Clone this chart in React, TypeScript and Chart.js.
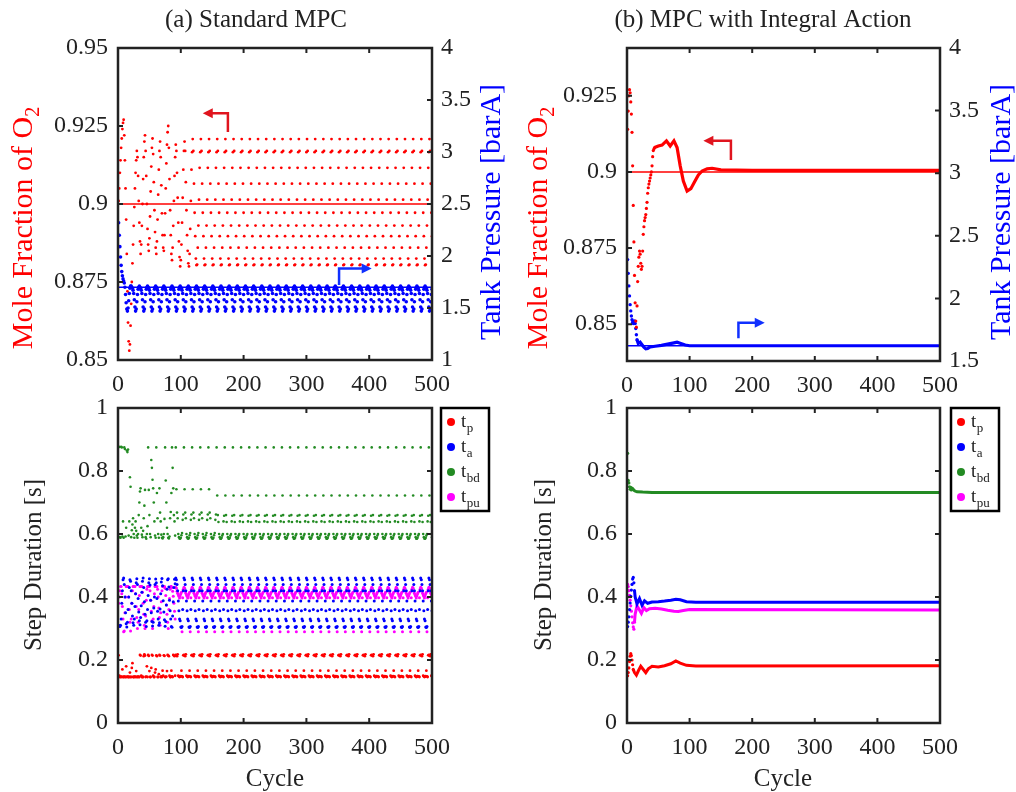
import React, { useEffect, useRef } from "react";
import { Chart, registerables } from "chart.js";
Chart.register(...registerables);

const FONT = '"Liberation Serif", "Times New Roman", serif';
const RED = "#ff0000";
const BLUE = "#0000ff";
const GREEN = "#238b23";
const MAGENTA = "#ff00ff";
const INK = "#222222";
const LAST_CYCLE = 500;

// ---------- tick labels ----------
const CYCLE_TICKS = [0, 100, 200, 300, 400, 500];
const A_O2_TICKS = [0.85, 0.875, 0.9, 0.925, 0.95];
const A_P_TICKS = [1, 1.5, 2, 2.5, 3, 3.5, 4];
const B_O2_TICKS = [0.85, 0.875, 0.9, 0.925];
const B_P_TICKS = [1.5, 2, 2.5, 3, 3.5, 4];
const STEP_TICKS = [0, 0.2, 0.4, 0.6, 0.8, 1];

// ---------- (a) Standard MPC : mole fraction / pressure ----------
const A_O2_SETPOINT = 0.9;
const A_P_SETPOINT = 1.7;
const A_O2_TRANSIENT = [
  0.901, 0.905, 0.91, 0.914, 0.918, 0.921, 0.924, 0.926, 0.927, 0.922,
  0.914, 0.905, 0.895, 0.884, 0.872, 0.862, 0.856, 0.853, 0.855, 0.861,
  0.868, 0.875, 0.881, 0.887, 0.893, 0.899, 0.905, 0.91, 0.914, 0.917,
  0.915, 0.909, 0.901, 0.894, 0.888, 0.884, 0.887, 0.893, 0.9, 0.908,
  0.915, 0.92, 0.922, 0.917, 0.909, 0.9, 0.892, 0.887, 0.885, 0.889,
  0.896, 0.904, 0.912, 0.918, 0.921, 0.916, 0.907, 0.898, 0.891, 0.886,
  0.884, 0.888, 0.895, 0.903, 0.911, 0.917, 0.92, 0.915, 0.906, 0.897,
  0.89, 0.886, 0.885, 0.89, 0.897, 0.905, 0.913, 0.919, 0.923, 0.925,
  0.918, 0.908, 0.898, 0.89, 0.884, 0.882, 0.886, 0.893, 0.901, 0.909,
  0.915, 0.919, 0.917, 0.91, 0.902, 0.894, 0.888, 0.883, 0.88, 0.882,
  0.887, 0.894, 0.902, 0.911, 0.917, 0.92, 0.917, 0.907, 0.898, 0.89,
  0.885, 0.881, 0.88, 0.884, 0.892, 0.901, 0.911,
];
const A_O2_CYCLE = [0.9166, 0.9208, 0.917, 0.9065, 0.8972, 0.8897, 0.8825, 0.8804, 0.8806, 0.886, 0.8931, 0.9014, 0.9116];
const A_P_TRANSIENT = [2.32, 2.2, 2.09, 1.99, 1.91, 1.85, 1.81, 1.78, 1.76, 1.74, 1.7, 1.63, 1.55, 1.49, 1.47, 1.5, 1.57, 1.64, 1.69, 1.71];
const A_P_CYCLE = [1.71, 1.7, 1.69, 1.67, 1.64, 1.58, 1.51, 1.47, 1.49, 1.56, 1.63, 1.68, 1.7];

// ---------- (a) Standard MPC : step durations ----------
const A_TP_TRANSIENT = [
  0.215, 0.15, 0.146, 0.146, 0.147, 0.146, 0.17, 0.146, 0.146, 0.147, 0.146, 0.146, 0.18,
  0.146, 0.147, 0.146, 0.146, 0.146, 0.16, 0.146, 0.146, 0.175, 0.19, 0.146, 0.146, 0.146,
  0.147, 0.146, 0.165, 0.146, 0.146, 0.147, 0.146, 0.146, 0.216, 0.214, 0.15, 0.146, 0.146,
  0.146, 0.212, 0.218, 0.214, 0.146, 0.147, 0.18, 0.146, 0.216, 0.213, 0.165, 0.146, 0.146,
  0.175, 0.216, 0.214, 0.15, 0.146, 0.146, 0.16, 0.17, 0.215, 0.212, 0.146, 0.146, 0.155,
  0.216, 0.214, 0.146, 0.148, 0.146, 0.166, 0.15, 0.215, 0.213, 0.146, 0.146, 0.147, 0.165,
  0.216, 0.214, 0.212, 0.15, 0.146, 0.146, 0.166, 0.148, 0.146, 0.216, 0.214, 0.212, 0.15,
];
const A_TP_CYCLE = [0.216, 0.214, 0.212, 0.218, 0.15, 0.148, 0.146, 0.147, 0.149, 0.166, 0.148, 0.146, 0.215];

const A_TA_TRANSIENT = [
  0.31, 0.308, 0.306, 0.31, 0.33, 0.38, 0.42, 0.455, 0.46, 0.44, 0.4, 0.35, 0.315,
  0.305, 0.32, 0.36, 0.4, 0.43, 0.455, 0.45, 0.42, 0.38, 0.34, 0.318, 0.31, 0.33,
  0.37, 0.41, 0.445, 0.458, 0.44, 0.395, 0.352, 0.325, 0.312, 0.335, 0.372, 0.415, 0.45,
  0.46, 0.43, 0.385, 0.345, 0.32, 0.306, 0.325, 0.36, 0.405, 0.445, 0.458, 0.438, 0.39,
  0.35, 0.322, 0.308, 0.32, 0.365, 0.4, 0.44, 0.457, 0.445, 0.395, 0.355, 0.33, 0.31,
  0.318, 0.362, 0.41, 0.448, 0.459, 0.436, 0.388, 0.352, 0.328, 0.307, 0.322, 0.375, 0.425,
  0.455, 0.458, 0.432, 0.39, 0.356, 0.33, 0.306, 0.304, 0.34, 0.385, 0.43, 0.456, 0.442,
];
const A_TA_CYCLE = [0.46, 0.455, 0.44, 0.42, 0.387, 0.356, 0.33, 0.325, 0.305, 0.303, 0.306, 0.36, 0.42];

const A_TBD_TRANSIENT = [
  0.877, 0.876, 0.59, 0.588, 0.877, 0.875, 0.592, 0.64, 0.588, 0.875, 0.87, 0.592, 0.62,
  0.865, 0.86, 0.868, 0.595, 0.64, 0.78, 0.75, 0.59, 0.612, 0.63, 0.65, 0.6, 0.588,
  0.62, 0.64, 0.61, 0.595, 0.588, 0.6, 0.66, 0.7, 0.735, 0.745, 0.62, 0.598, 0.59,
  0.61, 0.65, 0.69, 0.74, 0.59, 0.585, 0.6, 0.625, 0.875, 0.74, 0.66, 0.6, 0.59,
  0.835, 0.81, 0.772, 0.745, 0.7, 0.64, 0.595, 0.588, 0.875, 0.73, 0.65, 0.6, 0.588,
  0.745, 0.668, 0.64, 0.598, 0.588, 0.586, 0.59, 0.6, 0.648, 0.875, 0.77, 0.7, 0.62,
  0.6, 0.588, 0.586, 0.592, 0.65, 0.67, 0.73, 0.875, 0.81, 0.745, 0.66, 0.64, 0.595,
];
const A_TBD_MID_CYCLE = [0.875, 0.742, 0.668, 0.65, 0.6, 0.59, 0.586, 0.585, 0.588, 0.596, 0.603, 0.645, 0.662];
const A_TBD_MID_END = 156;
const A_TBD_CYCLE = [0.875, 0.722, 0.66, 0.638, 0.6, 0.59, 0.585, 0.585, 0.588, 0.595, 0.6, 0.64, 0.658];

const A_TPU_TRANSIENT = [
  0.38, 0.4, 0.42, 0.433, 0.433, 0.41, 0.37, 0.33, 0.29, 0.292, 0.35, 0.4, 0.433,
  0.433, 0.433, 0.433, 0.4, 0.36, 0.32, 0.292, 0.33, 0.38, 0.42, 0.433, 0.433, 0.433,
  0.433, 0.41, 0.37, 0.335, 0.3, 0.32, 0.36, 0.405, 0.433, 0.433, 0.433, 0.433, 0.415,
  0.38, 0.345, 0.31, 0.3, 0.34, 0.39, 0.425, 0.433, 0.433, 0.433, 0.433, 0.42, 0.39,
  0.355, 0.325, 0.3, 0.33, 0.37, 0.41, 0.433, 0.433, 0.433, 0.433, 0.425, 0.4, 0.365,
  0.335, 0.31, 0.35, 0.385, 0.42, 0.433, 0.433, 0.433, 0.433, 0.428, 0.405, 0.375, 0.345,
  0.32, 0.3, 0.36, 0.395, 0.425, 0.433, 0.433, 0.43, 0.418, 0.402, 0.38, 0.355, 0.33,
];
const A_TPU_CYCLE = [0.431, 0.428, 0.418, 0.412, 0.407, 0.402, 0.397, 0.404, 0.41, 0.415, 0.29, 0.398, 0.425];

// ---------- (b) MPC with integral action ----------
const B_O2_SETPOINT = 0.9;
const B_P_SETPOINT = 1.622;
const B_O2_DOTS = [
  0.914, 0.92, 0.925, 0.927, 0.926, 0.923, 0.919, 0.913, 0.902, 0.889,
  0.877, 0.866, 0.857, 0.851, 0.849, 0.856, 0.864, 0.869, 0.872, 0.874,
  0.873, 0.87, 0.868, 0.869, 0.874, 0.8795, 0.882, 0.884, 0.885, 0.886,
  0.888, 0.89, 0.893, 0.8948, 0.896, 0.897, 0.898, 0.899, 0.9, 0.902, 0.905, 0.907, 0.9075, 0.908,
];
const B_O2_CYCLES = [44, 50, 56, 63, 69, 75, 80, 85, 90, 96, 102, 108, 114, 120, 128, 136, 150, 200, 500];
const B_O2_VALUES = [0.908, 0.9085, 0.9088, 0.9102, 0.9085, 0.9102, 0.908, 0.902, 0.897, 0.8937, 0.8945, 0.8968, 0.899, 0.9003, 0.901, 0.9012, 0.9007, 0.9005, 0.9005];
const B_P_DOTS = [2.31, 2.2, 2.1, 2.02, 1.95, 1.9, 1.86, 1.83, 1.81, 1.8, 1.81, 1.82, 1.8, 1.76, 1.71, 1.67];
const B_P_CYCLES = [16, 18, 21, 24, 27, 30, 33, 37, 45, 55, 65, 75, 80, 86, 93, 100, 500];
const B_P_VALUES = [1.67, 1.64, 1.65, 1.63, 1.61, 1.597, 1.6, 1.612, 1.618, 1.625, 1.635, 1.645, 1.65, 1.64, 1.628, 1.622, 1.622];

const B_TP_DOTS = [0.15, 0.16, 0.175, 0.195, 0.212, 0.22, 0.214, 0.2, 0.185, 0.17];
const B_TP_CYCLES = [10, 12, 15, 18, 22, 26, 30, 34, 40, 50, 60, 70, 78, 85, 95, 110, 500];
const B_TP_VALUES = [0.17, 0.16, 0.152, 0.165, 0.18, 0.17, 0.16, 0.172, 0.18, 0.178, 0.182, 0.188, 0.197, 0.19, 0.183, 0.181, 0.182];
const B_TA_DOTS = [0.306, 0.32, 0.337, 0.36, 0.381, 0.402, 0.422, 0.44, 0.457, 0.462, 0.445, 0.42];
const B_TA_CYCLES = [12, 13, 16, 20, 24, 28, 33, 40, 50, 60, 70, 78, 85, 95, 110, 500];
const B_TA_VALUES = [0.42, 0.4, 0.378, 0.395, 0.374, 0.388, 0.38, 0.384, 0.385, 0.387, 0.39, 0.393, 0.391, 0.385, 0.383, 0.383];
const B_TBD_DOTS = [0.856, 0.77, 0.762, 0.75, 0.742, 0.748, 0.74];
const B_TBD_CYCLES = [7, 9, 12, 16, 25, 40, 500];
const B_TBD_VALUES = [0.74, 0.744, 0.737, 0.734, 0.733, 0.732, 0.732];
const B_TPU_DOTS = [0.44, 0.433, 0.42, 0.405, 0.39, 0.372, 0.355, 0.337, 0.318, 0.305, 0.298, 0.32];
const B_TPU_CYCLES = [12, 13, 16, 19, 23, 27, 31, 36, 45, 55, 65, 75, 82, 90, 100, 500];
const B_TPU_VALUES = [0.32, 0.345, 0.372, 0.362, 0.348, 0.366, 0.357, 0.363, 0.364, 0.362, 0.358, 0.355, 0.354, 0.357, 0.36, 0.359];

// ---------- annotation arrows (data coordinates) ----------
// [stem cycle, head cycle, low value, high value]
const A_O2_ARROW = [175, 135, 0.9231, 0.9291];
const A_P_ARROW = [352, 404, 1.72, 1.88];
const B_O2_ARROW = [166, 122, 0.9039, 0.9102];
const B_P_ARROW = [178, 220, 1.681, 1.805];

// ---------- helpers ----------
type Pt = { x: number; y: number };
const seq = (vals: number[]): Pt[] => vals.map((v, i) => ({ x: i + 1, y: v }));
const pairs = (xs: number[], ys: number[]): Pt[] => xs.map((x, i) => ({ x, y: ys[i] }));
function limitCycle(trans: number[], phases: [number[], number][]): Pt[] {
  const out: Pt[] = [];
  for (let c = 1; c <= LAST_CYCLE; c++) {
    if (c <= trans.length) {
      out.push({ x: c, y: trans[c - 1] });
      continue;
    }
    let start = trans.length + 1;
    for (const [vals, end] of phases) {
      if (c <= end) {
        out.push({ x: c, y: vals[(c - start) % vals.length] });
        break;
      }
      start = end + 1;
    }
  }
  return out;
}

const dots = (data: Pt[], color: string, r: number, axis = "y") => ({
  data,
  yAxisID: axis,
  showLine: false,
  pointRadius: r,
  pointHoverRadius: r,
  pointBorderWidth: 0,
  pointBackgroundColor: color,
  backgroundColor: color,
  borderColor: color,
});
const line = (data: Pt[], color: string, w: number, axis = "y") => ({
  data,
  yAxisID: axis,
  showLine: true,
  pointRadius: 0,
  pointHoverRadius: 0,
  borderWidth: w,
  borderColor: color,
  backgroundColor: color,
  fill: false,
  tension: 0,
});
const flat = (v: number): Pt[] => [
  { x: 0, y: v },
  { x: LAST_CYCLE, y: v },
];

type Part = { t: string; sub?: boolean };
type Title = { parts: Part[]; x: number; y: number; rot: number; color: string; size: number };
type Arrow = { a: number[]; axis: string; color: string };
type Box = { left: number; top: number; right: number; bottom: number };
interface Spec {
  left: number;
  top: number;
  width: number;
  height: number;
  area: Box;
  y: { min: number; max: number; ticks: number[] };
  y2?: { min: number; max: number; ticks: number[] };
  datasets: any[];
  titles: Title[];
  arrows: Arrow[];
  legend?: Box;
}

function drawRich(ctx: CanvasRenderingContext2D, t: Title, ox: number, oy: number) {
  ctx.save();
  ctx.translate(t.x - ox, t.y - oy);
  ctx.rotate((t.rot * Math.PI) / 180);
  ctx.fillStyle = t.color;
  ctx.textAlign = "left";
  ctx.textBaseline = "alphabetic";
  const widths = t.parts.map((p) => {
    ctx.font = `${p.sub ? Math.round(t.size * 0.68) : t.size}px ${FONT}`;
    return ctx.measureText(p.t).width;
  });
  let x = -widths.reduce((a, b) => a + b, 0) / 2;
  t.parts.forEach((p, i) => {
    ctx.font = `${p.sub ? Math.round(t.size * 0.68) : t.size}px ${FONT}`;
    ctx.fillText(p.t, x, t.size * 0.33 + (p.sub ? t.size * 0.22 : 0));
    x += widths[i];
  });
  ctx.restore();
}

const LEGEND_ITEMS = [
  { color: RED, sub: "p" },
  { color: BLUE, sub: "a" },
  { color: GREEN, sub: "bd" },
  { color: MAGENTA, sub: "pu" },
];

function decorPlugin(spec: Spec) {
  return {
    id: "decor",
    afterDraw(chart: any) {
      const ctx: CanvasRenderingContext2D = chart.ctx;
      const ca = chart.chartArea;
      const sx = chart.scales.x;
      const sy = chart.scales.y;
      const sy2 = chart.scales.y2;
      ctx.save();
      // arrows
      for (const ar of spec.arrows) {
        const s = ar.axis === "y2" ? sy2 : sy;
        const [stem, head, lo, hi] = ar.a;
        const xs = sx.getPixelForValue(stem);
        const xh = sx.getPixelForValue(head);
        const yb = s.getPixelForValue(lo);
        const yt = s.getPixelForValue(hi);
        const dir = Math.sign(xh - xs);
        ctx.strokeStyle = ar.color;
        ctx.fillStyle = ar.color;
        ctx.lineWidth = 2.5;
        ctx.beginPath();
        ctx.moveTo(xs, yb);
        ctx.lineTo(xs, yt);
        ctx.lineTo(xh - dir * 6, yt);
        ctx.stroke();
        ctx.beginPath();
        ctx.moveTo(xh, yt);
        ctx.lineTo(xh - dir * 10, yt - 5);
        ctx.lineTo(xh - dir * 10, yt + 5);
        ctx.closePath();
        ctx.fill();
      }
      // inward ticks
      ctx.strokeStyle = INK;
      ctx.lineWidth = 2;
      const TL = 5;
      ctx.beginPath();
      for (const v of CYCLE_TICKS) {
        const px = sx.getPixelForValue(v);
        ctx.moveTo(px, ca.bottom);
        ctx.lineTo(px, ca.bottom - TL);
        ctx.moveTo(px, ca.top);
        ctx.lineTo(px, ca.top + TL);
      }
      for (const v of spec.y.ticks) {
        const py = sy.getPixelForValue(v);
        ctx.moveTo(ca.left, py);
        ctx.lineTo(ca.left + TL, py);
        if (!spec.y2) {
          ctx.moveTo(ca.right, py);
          ctx.lineTo(ca.right - TL, py);
        }
      }
      if (spec.y2 && sy2) {
        for (const v of spec.y2.ticks) {
          const py = sy2.getPixelForValue(v);
          ctx.moveTo(ca.right, py);
          ctx.lineTo(ca.right - TL, py);
        }
      }
      ctx.stroke();
      // frame
      ctx.lineWidth = 2.5;
      ctx.strokeRect(ca.left, ca.top, ca.right - ca.left, ca.bottom - ca.top);
      // legend
      if (spec.legend) {
        const L = spec.legend;
        const l = L.left - spec.left;
        const t = L.top - spec.top;
        ctx.fillStyle = "#ffffff";
        ctx.fillRect(l, t, L.right - L.left, L.bottom - L.top);
        ctx.strokeStyle = "#000000";
        ctx.lineWidth = 2.5;
        ctx.strokeRect(l, t, L.right - L.left, L.bottom - L.top);
        LEGEND_ITEMS.forEach((it, i) => {
          const cy = t + 14 + i * 25;
          ctx.fillStyle = it.color;
          ctx.beginPath();
          ctx.arc(l + 10, cy, 4, 0, Math.PI * 2);
          ctx.fill();
          ctx.fillStyle = INK;
          ctx.textAlign = "left";
          ctx.textBaseline = "alphabetic";
          ctx.font = `19px ${FONT}`;
          ctx.fillText("t", l + 20, cy + 5);
          const w = ctx.measureText("t").width;
          ctx.font = `13px ${FONT}`;
          ctx.fillText(it.sub, l + 20 + w + 0.5, cy + 10);
        });
      }
      // titles
      for (const t of spec.titles) drawRich(ctx, t, spec.left, spec.top);
      ctx.restore();
    },
  };
}

function Panel({ spec }: { spec: Spec }) {
  const ref = useRef<HTMLCanvasElement | null>(null);
  useEffect(() => {
    if (!ref.current) return;
    const a = spec.area;
    const yW = a.left - spec.left;
    const padTop = a.top - spec.top;
    const xH = spec.top + spec.height - a.bottom;
    const rightW = spec.left + spec.width - a.right;
    const tickFont = { family: FONT, size: 24 };
    const noGrid = { display: false, drawTicks: false };
    const setTicks = (vals: number[]) => (axis: any) => {
      axis.ticks = vals.map((v) => ({ value: v }));
    };
    const scales: any = {
      x: {
        type: "linear",
        position: "bottom",
        min: 0,
        max: LAST_CYCLE,
        grid: noGrid,
        border: { display: false },
        afterBuildTicks: setTicks(CYCLE_TICKS),
        afterFit: (s: any) => {
          s.height = xH;
        },
        ticks: { font: tickFont, color: INK, padding: 10, maxRotation: 0, autoSkip: false, callback: (v: any) => String(v) },
      },
      y: {
        type: "linear",
        position: "left",
        min: spec.y.min,
        max: spec.y.max,
        grid: noGrid,
        border: { display: false },
        afterBuildTicks: setTicks(spec.y.ticks),
        afterFit: (s: any) => {
          s.width = yW;
        },
        ticks: { font: tickFont, color: INK, padding: 10, autoSkip: false, callback: (v: any) => String(v) },
      },
    };
    if (spec.y2) {
      scales.y2 = {
        type: "linear",
        position: "right",
        min: spec.y2.min,
        max: spec.y2.max,
        grid: noGrid,
        border: { display: false },
        afterBuildTicks: setTicks(spec.y2.ticks),
        afterFit: (s: any) => {
          s.width = rightW;
        },
        ticks: { font: tickFont, color: INK, padding: 9, autoSkip: false, callback: (v: any) => String(v) },
      };
    }
    const chart = new Chart(ref.current, {
      type: "scatter",
      data: { datasets: spec.datasets },
      options: {
        animation: false,
        responsive: false,
        maintainAspectRatio: false,
        events: [],
        layout: { padding: { top: padTop, left: 0, bottom: 0, right: spec.y2 ? 0 : rightW } },
        plugins: { legend: { display: false }, tooltip: { enabled: false } },
        scales,
      } as any,
      plugins: [decorPlugin(spec) as any],
    });
    return () => chart.destroy();
  }, [spec]);
  return (
    <canvas
      ref={ref}
      width={spec.width}
      height={spec.height}
      style={{ position: "absolute", left: spec.left, top: spec.top, width: spec.width, height: spec.height }}
    />
  );
}

const moleTitle = (x: number): Title => ({
  parts: [{ t: "Mole Fraction of O" }, { t: "2", sub: true }],
  x,
  y: 228,
  rot: -90,
  color: RED,
  size: 30,
});
const tankTitle = (x: number): Title => ({ parts: [{ t: "Tank Pressure [barA]" }], x, y: 212, rot: -90, color: BLUE, size: 30 });
const stepTitle = (x: number): Title => ({ parts: [{ t: "Step Duration [s]" }], x, y: 565, rot: -90, color: INK, size: 25 });
const cycleTitle = (x: number): Title => ({ parts: [{ t: "Cycle" }], x, y: 778, rot: 0, color: INK, size: 25 });

const SPECS: Spec[] = [
  {
    left: 0,
    top: 0,
    width: 508,
    height: 410,
    area: { left: 118, top: 48, right: 432, bottom: 360 },
    y: { min: 0.85, max: 0.95, ticks: A_O2_TICKS },
    y2: { min: 1, max: 4, ticks: A_P_TICKS },
    datasets: [
      dots(limitCycle(A_O2_TRANSIENT, [[A_O2_CYCLE, LAST_CYCLE]]), RED, 1.4),
      line(flat(A_O2_SETPOINT), RED, 1.5),
      dots(limitCycle(A_P_TRANSIENT, [[A_P_CYCLE, LAST_CYCLE]]), BLUE, 1.8, "y2"),
      line(flat(A_P_SETPOINT), BLUE, 1.5, "y2"),
    ],
    titles: [
      moleTitle(22),
      tankTitle(490),
      { parts: [{ t: "(a) Standard MPC" }], x: 256, y: 19, rot: 0, color: INK, size: 25 },
    ],
    arrows: [
      { a: A_O2_ARROW, axis: "y", color: "#e0141e" },
      { a: A_P_ARROW, axis: "y2", color: "#1030ff" },
    ],
  },
  {
    left: 508,
    top: 0,
    width: 508,
    height: 410,
    area: { left: 627, top: 48, right: 940, bottom: 361 },
    y: { min: 0.8379, max: 0.9407, ticks: B_O2_TICKS },
    y2: { min: 1.5, max: 4, ticks: B_P_TICKS },
    datasets: [
      line(flat(B_O2_SETPOINT), RED, 1.5),
      dots(seq(B_O2_DOTS), RED, 1.6),
      line(pairs(B_O2_CYCLES, B_O2_VALUES), RED, 3.2),
      line(flat(B_P_SETPOINT), BLUE, 1.5, "y2"),
      dots(seq(B_P_DOTS), BLUE, 1.7, "y2"),
      line(pairs(B_P_CYCLES, B_P_VALUES), BLUE, 3.2, "y2"),
    ],
    titles: [
      moleTitle(537),
      tankTitle(1000),
      { parts: [{ t: "(b) MPC with Integral Action" }], x: 763, y: 19, rot: 0, color: INK, size: 25 },
    ],
    arrows: [
      { a: B_O2_ARROW, axis: "y", color: "#e0141e" },
      { a: B_P_ARROW, axis: "y2", color: "#1030ff" },
    ],
  },
  {
    left: 0,
    top: 378,
    width: 508,
    height: 414,
    area: { left: 118, top: 408, right: 432, bottom: 723 },
    y: { min: 0, max: 1, ticks: STEP_TICKS },
    datasets: [
      dots(limitCycle(A_TBD_TRANSIENT, [[A_TBD_MID_CYCLE, A_TBD_MID_END], [A_TBD_CYCLE, LAST_CYCLE]]), GREEN, 1.3),
      dots(limitCycle(A_TA_TRANSIENT, [[A_TA_CYCLE, LAST_CYCLE]]), BLUE, 1.5),
      dots(limitCycle(A_TPU_TRANSIENT, [[A_TPU_CYCLE, LAST_CYCLE]]), MAGENTA, 1.5),
      dots(limitCycle(A_TP_TRANSIENT, [[A_TP_CYCLE, LAST_CYCLE]]), RED, 1.4),
    ],
    titles: [stepTitle(33), cycleTitle(275)],
    arrows: [],
    legend: { left: 441, top: 408, right: 489, bottom: 511 },
  },
  {
    left: 508,
    top: 378,
    width: 508,
    height: 414,
    area: { left: 627, top: 408, right: 940, bottom: 723 },
    y: { min: 0, max: 1, ticks: STEP_TICKS },
    datasets: [
      dots(seq(B_TBD_DOTS), GREEN, 1.6),
      line(pairs(B_TBD_CYCLES, B_TBD_VALUES), GREEN, 3),
      dots(seq(B_TA_DOTS), BLUE, 1.6),
      line(pairs(B_TA_CYCLES, B_TA_VALUES), BLUE, 3),
      dots(seq(B_TPU_DOTS), MAGENTA, 1.6),
      line(pairs(B_TPU_CYCLES, B_TPU_VALUES), MAGENTA, 3),
      dots(seq(B_TP_DOTS), RED, 1.6),
      line(pairs(B_TP_CYCLES, B_TP_VALUES), RED, 3),
    ],
    titles: [stepTitle(543), cycleTitle(783)],
    arrows: [],
    legend: { left: 951, top: 408, right: 999, bottom: 511 },
  },
];

export default function App() {
  return (
    <div style={{ position: "absolute", left: 0, top: 0, width: 1016, height: 792, background: "#ffffff", overflow: "hidden" }}>
      {SPECS.map((s, i) => (
        <Panel key={i} spec={s} />
      ))}
    </div>
  );
}
